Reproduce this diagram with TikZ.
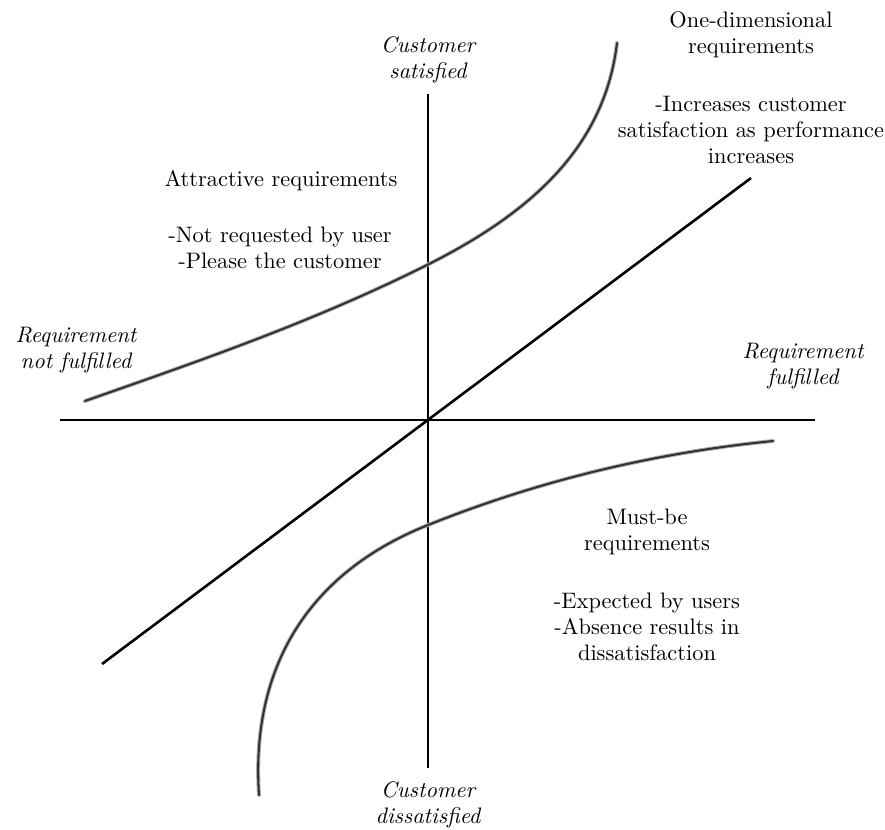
\documentclass[tikz,border=0pt]{standalone}
\begin{document}
\begin{tikzpicture}[x=1pt,y=-1pt,
  axis/.style={line width=2.6pt},
  curveblur/.style={line width=4.0pt, draw=black!30},
  curvecore/.style={line width=2.1pt, draw=black!80},
  lbl/.style={align=center, inner sep=0pt, scale=2.24, transform shape, font=\fontsize{10}{11.6}\selectfont},
  ilbl/.style={lbl, font=\fontsize{10}{11.6}\selectfont\itshape}]
\useasboundingbox (0,0) rectangle (885,829);
% axis endpoints
\coordinate (xl) at (60,420);
\coordinate (xr) at (815,420);
\coordinate (yt) at (428,94);
\coordinate (yb) at (428,768);
\coordinate (dl) at (102,664);
\coordinate (dr) at (751,178);
\draw[axis] (xl) -- (xr);
\draw[axis] (yt) -- (yb);
\draw[axis] (dl) -- (dr);
% curve points
\coordinate (a0) at (85,401);
\coordinate (a1) at (427,265);
\coordinate (a2) at (617,43);
\coordinate (m0) at (773,441);
\coordinate (m1) at (428,525);
\coordinate (m2) at (259,795);
\foreach \s in {curveblur,curvecore}{
\draw[\s, line cap=round] (a0) .. controls (199,361) and (313,322) .. (a1)
  .. controls (537,210) and (605,143) .. (a2);
\draw[\s, line cap=round] (m0) .. controls (658,452.5) and (543,479) .. (m1)
  .. controls (315,570) and (250,660) .. (m2);
}
% labels
\node[ilbl] (cs) at (428,60) {Customer\\satisfied};
\node[ilbl] (cd) at (428,805) {Customer\\dissatisfied};
\node[ilbl] (rn) at (76,350) {Requirement\\not fulfilled};
\node[ilbl] (rf) at (803,366) {Requirement\\fulfilled};
\node[lbl] (od) at (751,35) {One-dimensional\\requirements};
\node[lbl] (odt) at (751,130) {-Increases customer\\satisfaction as performance\\increases};
\node[lbl] (at) at (281,181) {Attractive requirements};
\node[lbl] (att) at (280,248) {-Not requested by user\\-Please the customer};
\node[lbl] (mb) at (647,532) {Must-be\\requirements};
\node[lbl] (mbt) at (647,627) {-Expected by users\\-Absence results in\\dissatisfaction};
\end{tikzpicture}
\end{document}
